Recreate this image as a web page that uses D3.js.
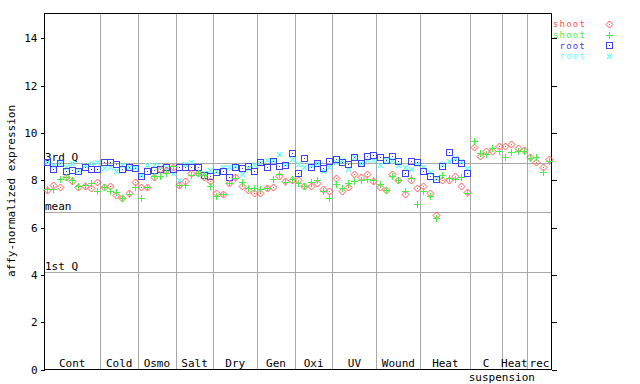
<!DOCTYPE html>
<html><head><meta charset="utf-8">
<script src="https://cdn.jsdelivr.net/npm/d3@7"></script>
<style>
body{margin:0;background:#fff;}
text{font-family:"DejaVu Sans Mono","Liberation Mono",monospace;font-size:11px;}
</style></head>
<body><svg id="c" width="640" height="384"></svg>
<script>
// ---- data ----
const groupNames = ["Cont","Cold","Osmo","Salt","Dry","Gen","Oxi","UV","Wound","Heat","C","Heat","rec"];
const groupSizes = [9,6,6,6,7,6,6,7,7,8,5,4,4];
const subLabel = "suspension";
const yTicks = [0,2,4,6,8,10,12,14];
const refNames = ["3rd Q","mean","1st Q"];
const refValues = [8.70, 6.63, 4.09];
const seriesNames = ["shoot","shoot","root","root"];

const shoot1 = [7.57,7.78,7.69,8.13,7.95,7.71,7.74,7.67,7.90,
  7.71,7.75,7.35,7.22,7.46,7.90,
  7.71,7.71,8.13,8.45,8.42,8.56,
  7.78,7.95,8.28,8.28,8.11,7.95,
  7.46,7.40,7.87,8.11,7.75,7.57,7.43,
  7.46,7.66,7.69,8.16,7.95,7.97,
  7.99,7.72,7.74,7.85,7.59,7.53,
  8.08,7.53,7.69,8.23,8.11,8.24,7.94,
  7.71,7.58,8.26,7.97,7.41,7.99,7.64,
  7.73,7.42,6.50,8.00,7.97,8.17,7.73,7.47,
  9.38,8.99,9.22,9.21,9.43,
  9.43,9.52,9.34,9.25,
  8.97,8.74,8.54,8.87];
const shoot2 = [7.60,7.60,8.02,8.11,7.99,7.74,7.78,7.86,7.52,
  7.69,7.54,7.47,7.22,7.40,7.71,
  7.22,7.69,8.14,8.16,8.29,8.57,
  7.77,7.78,8.21,8.29,8.21,7.74,
  7.30,7.38,7.86,8.09,7.92,7.64,7.64,
  7.60,7.64,8.02,8.25,7.92,8.02,
  7.86,7.74,7.92,7.99,7.53,7.22,
  7.81,7.67,7.88,7.94,7.99,8.02,7.97,
  7.80,7.58,8.14,7.97,7.52,8.09,6.97,
  7.52,7.33,6.38,8.20,8.09,8.03,8.11,7.45,
  9.64,9.13,9.09,9.34,9.20,
  8.96,9.17,9.20,9.20,
  8.92,8.96,8.32,8.80];
const root1 = [8.73,8.47,8.70,8.36,8.41,8.38,8.56,8.45,8.45,
  8.74,8.74,8.68,8.45,8.52,8.49,
  8.16,8.38,8.41,8.46,8.52,8.45,
  8.52,8.52,8.56,8.54,8.19,8.16,
  8.32,8.38,8.11,8.52,8.49,8.57,8.38,
  8.77,8.53,8.81,8.59,8.62,9.14,
  8.28,8.91,8.54,8.70,8.49,8.79,
  8.87,8.74,8.66,8.95,8.70,9.00,9.04,
  8.96,8.83,9.00,8.78,8.28,8.78,8.74,
  8.37,8.14,8.02,8.60,9.17,8.82,8.71,8.28];
const root2 = [8.74,8.63,8.71,8.56,8.70,8.42,8.63,8.71,8.77,
  8.49,8.56,8.35,8.63,8.56,8.56,
  8.21,8.63,8.63,8.56,8.50,8.28,
  7.97,8.67,8.74,8.28,8.28,8.42,
  8.35,8.52,8.52,8.59,8.24,8.50,8.63,
  8.71,8.84,8.84,9.08,8.67,8.87,
  8.66,8.52,8.63,8.71,8.35,8.56,
  8.76,8.84,8.46,8.98,8.71,8.83,8.83,
  8.62,8.84,8.85,8.63,8.53,8.44,8.65,
  8.54,8.33,8.06,8.67,8.78,8.92,8.80,8.50];

// ---- layout ----
const svg = d3.select("#c");
const nSlots = d3.sum(groupSizes);
const x = d3.scaleLinear().domain([0,nSlots]).range([44,552]);
const y = d3.scaleLinear().domain([0,15.05]).range([369,13]);
const gray = "#a8a8a8";
const colors = ["#ff5050","#44f044","#4040f0","#60ffff"];
const px = v => Math.round(v)+0.5;

// group boundaries
const bounds = [0]; groupSizes.forEach(s=>bounds.push(bounds[bounds.length-1]+s));
svg.append("g").selectAll("line").data(bounds.slice(1,-1)).join("line")
  .attr("x1",d=>px(x(d))).attr("x2",d=>px(x(d))).attr("y1",13).attr("y2",369)
  .attr("stroke",gray).attr("shape-rendering","crispEdges");

// reference lines
svg.append("g").selectAll("line").data(refValues).join("line")
  .attr("x1",44).attr("x2",552).attr("y1",d=>px(y(d))).attr("y2",d=>px(y(d)))
  .attr("stroke",gray).attr("shape-rendering","crispEdges");
svg.append("g").selectAll("text").data(refNames).join("text")
  .attr("x",45).attr("y",(d,i)=>Math.round(y(refValues[i]))-2).text(d=>d).attr("fill","#000");

// axes
const yl = svg.append("g").attr("transform","translate(44.5,0.5)")
  .call(d3.axisLeft(y).tickValues(yTicks).tickSize(4).tickPadding(3).tickFormat(d3.format("d")));
const yr = svg.append("g").attr("transform","translate(551.5,0.5)")
  .call(d3.axisLeft(y).tickValues(yTicks).tickSize(-5).tickFormat(""));
[yl,yr].forEach(g=>{g.select(".domain").remove();
  g.selectAll("line").attr("stroke","#000").attr("shape-rendering","crispEdges");
  g.selectAll("text").style("font-family",'"DejaVu Sans Mono",monospace').style("font-size","11px").attr("fill","#000");});
// frame
svg.append("rect").attr("x",44.5).attr("y",13.5).attr("width",507).attr("height",355.5)
  .attr("fill","none").attr("stroke","#000").attr("shape-rendering","crispEdges");

// group labels
svg.append("g").selectAll("text").data(groupNames).join("text")
  .attr("x",(d,i)=>x((bounds[i]+bounds[i+1])/2)).attr("y",367)
  .attr("text-anchor","middle").text(d=>d);
svg.append("text").attr("x",x(bounds[11])).attr("y",381).attr("text-anchor","middle").text(subLabel);

// y label
svg.append("text").attr("transform","translate(15,191) rotate(-90)").attr("text-anchor","middle")
  .text("affy-normalized expression");

// markers
function marker(g, type, cx, cy, col){
  cx = Math.round(cx)+0.5; cy = Math.round(cy)+0.5;
  if(type===0){
    g.append("path").attr("d",`M${cx},${cy-3.5}L${cx+3.5},${cy}L${cx},${cy+3.5}L${cx-3.5},${cy}Z`)
      .attr("fill","none").attr("stroke",col).attr("stroke-width",1);
    g.append("rect").attr("x",cx-0.5).attr("y",cy-0.5).attr("width",1).attr("height",1).attr("fill",col);
  } else if(type===1){
    g.append("path").attr("d",`M${cx-3.5},${cy}H${cx+3.5}M${cx},${cy-3.5}V${cy+3.5}`)
      .attr("stroke",col).attr("stroke-width",1.2).attr("shape-rendering","crispEdges");
  } else if(type===2){
    g.append("rect").attr("x",cx-3).attr("y",cy-3).attr("width",6).attr("height",6)
      .attr("fill","none").attr("stroke",col).attr("stroke-width",1.2).attr("shape-rendering","crispEdges");
    g.append("rect").attr("x",cx-0.5).attr("y",cy-0.5).attr("width",1).attr("height",1).attr("fill",col);
  } else {
    g.append("path").attr("d",`M${cx-2.5},${cy-2.5}L${cx+2.5},${cy+2.5}M${cx-2.5},${cy+2.5}L${cx+2.5},${cy-2.5}`)
      .attr("stroke",col).attr("stroke-width",1.1);
  }
}
const series = [shoot1, shoot2, root1, root2];
const drawOrder = [3,2,0,1];
drawOrder.forEach(si=>{
  const g = svg.append("g");
  series[si].forEach((v,k)=>marker(g, si, x(k+0.5), y(v), colors[si]));
});

// legend
const lg = svg.append("g");
seriesNames.forEach((n,i)=>{
  const yy = 24 + i*10.7;
  lg.append("text").attr("x",586).attr("y",yy).attr("dy","0.35em").attr("text-anchor","end")
    .style("font-size","9px").style("letter-spacing","1.2px")
    .attr("fill",colors[i]).text(n);
  marker(lg, i, 609, yy, colors[i]);
});
</script></body></html>
